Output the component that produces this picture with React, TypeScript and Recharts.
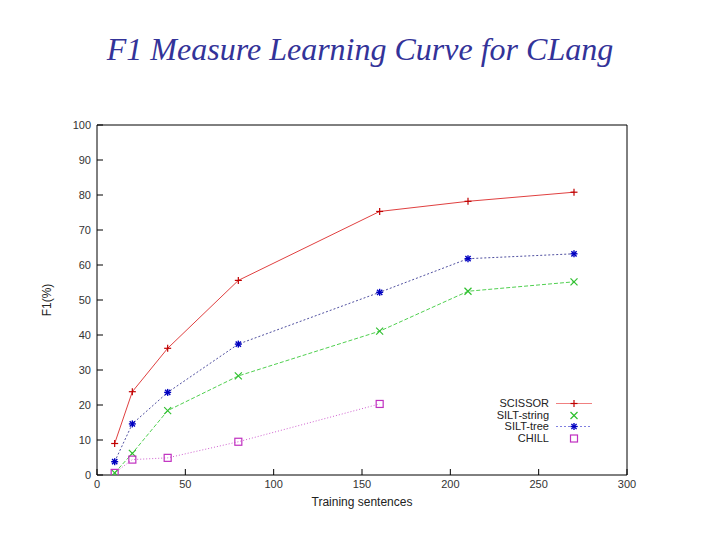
import React from "react";
import {
  LineChart,
  Line,
  XAxis,
  YAxis,
} from "recharts";

// training set sizes and F1 scores
const scissor = [
  { x: 10, y: 9 },
  { x: 20, y: 23.8 },
  { x: 40, y: 36.2 },
  { x: 80, y: 55.6 },
  { x: 160, y: 75.3 },
  { x: 210, y: 78.2 },
  { x: 270, y: 80.8 },
];

const siltString = [
  { x: 10, y: 0.6 },
  { x: 20, y: 6.2 },
  { x: 40, y: 18.4 },
  { x: 80, y: 28.3 },
  { x: 160, y: 41.1 },
  { x: 210, y: 52.5 },
  { x: 270, y: 55.2 },
];

const siltTree = [
  { x: 10, y: 3.8 },
  { x: 20, y: 14.6 },
  { x: 40, y: 23.6 },
  { x: 80, y: 37.4 },
  { x: 160, y: 52.2 },
  { x: 210, y: 61.8 },
  { x: 270, y: 63.2 },
];

const chill = [
  { x: 10, y: 0.6 },
  { x: 20, y: 4.4 },
  { x: 40, y: 4.9 },
  { x: 80, y: 9.5 },
  { x: 160, y: 20.3 },
];

const xTicks = [0, 50, 100, 150, 200, 250, 300];
const yTicks = [0, 10, 20, 30, 40, 50, 60, 70, 80, 90, 100];

type Shape = "plus" | "cross" | "star" | "square";

const series = [
  { name: "SCISSOR", data: scissor, color: "#c00000", line: "#e04040", dash: undefined, shape: "plus" as Shape, legendLine: "#f08080" },
  { name: "SILT-string", data: siltString, color: "#30c030", line: "#50d050", dash: "4 2", shape: "cross" as Shape, legendLine: "none" },
  { name: "SILT-tree", data: siltTree, color: "#0000c0", line: "#5050a0", dash: "2 2", shape: "star" as Shape, legendLine: "#8080e0" },
  { name: "CHILL", data: chill, color: "#c030c0", line: "#d060d0", dash: "1 2", shape: "square" as Shape, legendLine: "none" },
];

function Marker({ cx, cy, shape, color }: { cx: number; cy: number; shape: Shape; color: string }) {
  const r = 3.5;
  if (shape === "plus") {
    return (
      <g stroke={color} strokeWidth={1.2}>
        <line x1={cx - r} y1={cy} x2={cx + r} y2={cy} />
        <line x1={cx} y1={cy - r} x2={cx} y2={cy + r} />
      </g>
    );
  }
  if (shape === "cross") {
    return (
      <g stroke={color} strokeWidth={1.2}>
        <line x1={cx - r} y1={cy - r} x2={cx + r} y2={cy + r} />
        <line x1={cx - r} y1={cy + r} x2={cx + r} y2={cy - r} />
      </g>
    );
  }
  if (shape === "star") {
    return (
      <g stroke={color} strokeWidth={1.4}>
        <line x1={cx - r} y1={cy} x2={cx + r} y2={cy} />
        <line x1={cx} y1={cy - r} x2={cx} y2={cy + r} />
        <line x1={cx - r * 0.75} y1={cy - r * 0.75} x2={cx + r * 0.75} y2={cy + r * 0.75} />
        <line x1={cx - r * 0.75} y1={cy + r * 0.75} x2={cx + r * 0.75} y2={cy - r * 0.75} />
      </g>
    );
  }
  return <rect x={cx - r} y={cy - r} width={r * 2} height={r * 2} fill="none" stroke={color} strokeWidth={1.2} />;
}

const tickStyle = { fontFamily: "Liberation Sans, Arial, sans-serif", fontSize: 11, fill: "#333" };

function LegendBox() {
  return (
    <div style={{ fontFamily: "Liberation Sans, Arial, sans-serif", fontSize: 11, color: "#222" }}>
      {series.map((s) => (
        <div key={s.name} style={{ display: "flex", alignItems: "center", justifyContent: "flex-end", height: 11.5, lineHeight: "11.5px" }}>
          <span style={{ marginRight: 6 }}>{s.name}</span>
          <svg width={38} height={11}>
            {s.legendLine !== "none" && (
              <line x1={1} y1={5.5} x2={37} y2={5.5} stroke={s.legendLine} strokeWidth={1.2} strokeDasharray={s.dash} />
            )}
            <Marker cx={19} cy={5.5} shape={s.shape} color={s.color} />
          </svg>
        </div>
      ))}
    </div>
  );
}

export default function App() {
  return (
    <div style={{ position: "absolute", left: 0, top: 0, width: 720, height: 540, background: "#fff" }}>
      <div
        style={{
          position: "absolute",
          left: 0,
          width: 720,
          top: 31,
          textAlign: "center",
          fontFamily: "Liberation Serif, Times New Roman, serif",
          fontStyle: "italic",
          fontSize: 32,
          color: "#333399",
        }}
      >
        F1 Measure Learning Curve for CLang
      </div>
      <LineChart width={720} height={540} margin={{ top: 120, right: 88, left: 57, bottom: 35 }}>
        <XAxis
          type="number"
          dataKey="x"
          domain={[0, 300]}
          ticks={xTicks}
          tick={tickStyle}
          tickSize={-6}
          tickMargin={11}
          height={30}
          stroke="#000"
          allowDataOverflow
        />
        <XAxis
          xAxisId="top"
          orientation="top"
          type="number"
          domain={[0, 300]}
          ticks={xTicks}
          tick={false}
          tickSize={-6}
          height={5}
          stroke="#000"
        />
        <YAxis
          type="number"
          domain={[0, 100]}
          ticks={yTicks}
          tick={tickStyle}
          tickSize={-6}
          tickMargin={12}
          width={40}
          stroke="#000"
          allowDataOverflow
        />
        <YAxis
          yAxisId="right"
          orientation="right"
          type="number"
          domain={[0, 100]}
          ticks={yTicks}
          tick={false}
          tickSize={-6}
          width={5}
          stroke="#000"
        />
        {series.map((s) => (
          <Line
            key={s.name}
            data={s.data}
            dataKey="y"
            name={s.name}
            type="linear"
            stroke={s.line}
            strokeWidth={1}
            strokeDasharray={s.dash}
            isAnimationActive={false}
            dot={(p: any) => <Marker key={`${s.name}-${p.index}`} cx={p.cx} cy={p.cy} shape={s.shape} color={s.color} />}
            activeDot={false}
          />
        ))}
      </LineChart>
      <div style={{ position: "absolute", left: 380, top: 398, width: 213 }}>
        <LegendBox />
      </div>
      <div
        style={{
          position: "absolute",
          left: 0,
          width: 724,
          top: 495,
          textAlign: "center",
          fontFamily: "Liberation Sans, Arial, sans-serif",
          fontSize: 12,
          color: "#222",
        }}
      >
        Training sentences
      </div>
      <div
        style={{
          position: "absolute",
          left: 47,
          top: 300,
          transform: "translate(-50%, -50%) rotate(-90deg)",
          fontFamily: "Liberation Sans, Arial, sans-serif",
          fontSize: 12,
          color: "#222",
          whiteSpace: "nowrap",
        }}
      >
        F1(%)
      </div>
    </div>
  );
}
